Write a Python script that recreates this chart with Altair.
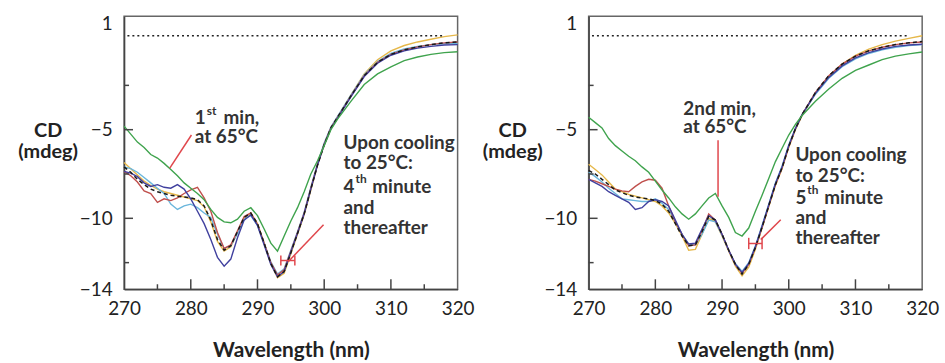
import altair as alt
import pandas as pd

# ---------------- data ----------------
wavelength = list(range(270, 303)) + list(range(304, 321, 2))

left_green = [-4.8, -5.25, -5.7, -6.0, -6.4, -6.6, -6.9, -7.25, -7.6, -8.0,
              -8.3, -8.6, -8.95, -9.5, -9.95, -10.2, -10.25, -10.05, -9.6, -9.4,
              -9.85, -10.6, -11.4, -11.85, -11.0, -10.15, -9.4, -8.5, -7.5, -6.75,
              -5.9, -5.0, -4.4,
              -3.4, -2.45, -1.85, -1.45, -1.1, -0.9, -0.75, -0.65, -0.6]
left_yellow = [-6.85, -7.2, -7.55, -7.9, -8.15, -8.35, -8.5, -8.6, -8.7, -8.8,
               -8.9, -9.0, -9.35, -10.2, -11.3, -11.85, -11.6, -10.8, -10.0, -9.7,
               -10.3, -11.4, -12.55, -13.35, -13.1, -12.0, -10.9, -9.8, -8.4, -7.0,
               -5.85, -4.95, -4.3,
               -3.05, -1.85, -1.05, -0.55, -0.25, -0.05, 0.1, 0.25, 0.35]
left_red = [-7.35, -7.6, -7.95, -8.45, -8.6, -9.1, -8.9, -9.0, -8.85, -8.6,
            -8.4, -8.25, -8.85, -9.6, -10.8, -11.7, -11.5, -10.7, -9.9, -9.7,
            -10.35, -11.4, -12.5, -13.2, -12.9, -11.85, -10.8, -9.7, -8.3, -6.95,
            -5.8, -4.9, -4.3,
            -3.1, -1.95, -1.2, -0.75, -0.5, -0.33, -0.2, -0.1, -0.05]
left_blue = [-7.35, -7.45, -7.65, -8.0, -8.2, -8.1, -8.25, -8.3, -8.1, -8.35,
             -8.9, -9.6, -10.3, -11.2, -12.2, -12.7, -12.3, -11.1, -10.1, -9.8,
             -10.4, -11.5, -12.6, -13.3, -13.0, -11.9, -10.85, -9.75, -8.35, -7.0,
             -5.85, -4.95, -4.35,
             -3.15, -2.0, -1.25, -0.8, -0.55, -0.4, -0.3, -0.22, -0.2]
left_cyan = [-7.1, -7.2, -7.4, -7.7, -8.0, -8.3, -8.6, -9.2, -9.5, -9.3,
             -9.2, -9.4, -9.7, -9.95, -10.9, -11.7, -11.55, -10.85, -10.05, -9.85,
             -10.4, -11.4, -12.45, -13.15, -12.85, -11.8, -10.75, -9.65, -8.25, -6.9,
             -5.75, -4.85, -4.25,
             -3.05, -1.9, -1.15, -0.7, -0.45, -0.3, -0.2, -0.15, -0.12]
left_black = [-7.1, -7.4, -7.8, -8.1, -8.35, -8.5, -8.6, -8.7, -8.75, -8.8,
              -8.85, -8.95, -9.3, -10.1, -11.2, -11.8, -11.55, -10.75, -9.95, -9.7,
              -10.3, -11.4, -12.55, -13.3, -13.0, -11.95, -10.85, -9.75, -8.35, -7.0,
              -5.85, -4.9, -4.3,
              -3.1, -1.95, -1.2, -0.75, -0.5, -0.33, -0.2, -0.1, -0.05]

right_green = [-4.3, -4.6, -4.9, -5.5, -5.9, -6.2, -6.5, -6.75, -7.1, -7.4,
               -7.9, -8.4, -8.85, -9.35, -9.75, -10.05, -9.75, -9.3, -8.85, -8.6,
               -9.3, -9.95, -10.8, -11.0, -10.55, -9.6, -8.7, -7.75, -6.8, -6.05,
               -5.3, -4.7, -4.2,
               -3.4, -2.7, -2.1, -1.65, -1.35, -1.05, -0.85, -0.72, -0.62]
right_yellow = [-6.95, -7.25, -7.55, -7.95, -8.35, -8.5, -8.65, -8.75, -8.85, -8.95,
                -9.05, -9.3, -9.7, -10.3, -11.0, -11.8, -11.75, -10.9, -10.0, -10.2,
                -11.0, -11.85, -12.7, -13.25, -12.75, -11.75, -10.55, -9.35, -8.15, -7.2,
                -6.0, -5.0, -4.2,
                -2.95, -2.0, -1.3, -0.8, -0.45, -0.2, 0.0, 0.15, 0.3]
right_red = [-7.8, -7.9, -8.05, -8.2, -8.35, -8.45, -8.5, -8.2, -7.95, -7.8,
             -7.85, -8.3, -9.3, -10.2, -10.9, -11.55, -11.5, -10.7, -9.75, -10.1,
             -10.9, -11.8, -12.6, -13.1, -12.6, -11.65, -10.5, -9.3, -8.1, -7.15,
             -5.95, -4.95, -4.15,
             -2.9, -1.95, -1.3, -0.85, -0.55, -0.35, -0.2, -0.1, -0.05]
right_blue = [-7.8, -8.0, -8.2, -8.5, -8.7, -8.9, -9.1, -9.5, -9.4, -9.05,
              -8.95, -9.05, -9.3, -10.1, -10.9, -11.45, -11.4, -10.6, -9.85, -10.1,
              -10.9, -11.8, -12.6, -13.05, -12.55, -11.6, -10.45, -9.25, -8.05, -7.1,
              -5.9, -4.95, -4.15,
              -2.95, -2.05, -1.4, -0.95, -0.65, -0.45, -0.3, -0.22, -0.18]
right_cyan = [-7.4, -7.65, -7.95, -8.3, -8.6, -8.9, -8.95, -9.0, -9.05, -9.05,
              -8.9, -9.15, -9.5, -10.2, -10.9, -11.45, -11.5, -10.9, -10.1, -10.2,
              -10.95, -11.8, -12.55, -13.0, -12.5, -11.55, -10.4, -9.2, -8.0, -7.05,
              -5.85, -4.9, -4.15,
              -3.0, -2.1, -1.45, -1.0, -0.7, -0.5, -0.35, -0.25, -0.2]
right_black = [-7.3, -7.5, -7.8, -8.1, -8.4, -8.55, -8.7, -8.8, -8.85, -8.9,
               -9.0, -9.2, -9.6, -10.3, -11.0, -11.55, -11.5, -10.75, -9.9, -10.1,
               -10.9, -11.8, -12.6, -13.15, -12.6, -11.65, -10.5, -9.3, -8.1, -7.15,
               -5.95, -4.95, -4.15,
               -2.9, -1.95, -1.3, -0.85, -0.55, -0.35, -0.2, -0.1, -0.02]

x_tick_labels = [270, 280, 290, 300, 310, 320]
y_tick_labels = [1, -5, -10, -14]
baseline_cd = 0.3

# annotations (wavelength, CD, text)
left_text = [(280.6, -4.37, "1"), (280.6, -5.43, "at 65°C"),
             (302.9, -5.77, "Upon cooling"), (302.9, -6.89, "to 25°C:"),
             (302.9, -8.23, "4"), (302.9, -9.41, "and"), (302.9, -10.53, "thereafter")]
left_sup = [(280.6, -4.37, "st"), (302.9, -8.23, "th")]
left_after = [(280.6, -4.37, "min,"), (302.9, -8.23, "minute")]
left_arrows = [(280.1, -5.3, 276.85, -7.17), (299.9, -10.36, 294.6, -12.45),
               (293.5, -12.38, 295.6, -12.38), (293.5, -12.1, 293.5, -12.66),
               (295.6, -12.1, 295.6, -12.66)]

right_text = [(284.2, -3.81, "2nd min,"), (284.2, -4.87, "at 65°C"),
              (301.0, -6.44, "Upon cooling"), (301.0, -7.62, "to 25°C:"),
              (301.0, -8.85, "5"), (301.0, -9.97, "and"), (301.0, -11.09, "thereafter")]
right_sup = [(301.0, -8.85, "th")]
right_after = [(301.0, -8.85, "minute")]
right_arrows = [(289.4, -5.6, 289.4, -8.79), (298.8, -10.08, 295.8, -11.2),
                (294.0, -11.42, 296.0, -11.42), (294.0, -11.1, 294.0, -11.74),
                (296.0, -11.1, 296.0, -11.74)]

series_colors = {"yellow": "#e6b84a", "cyan": "#6ab6dc", "red": "#c0504d",
                 "blue": "#40409e", "black": "#1a1a1a", "green": "#3fa34d"}

W, H = 336, 275
xscale = alt.Scale(domain=[270, 320], nice=False, zero=False)
yscale = alt.Scale(domain=[-14, 1.4], nice=False, zero=False)
FONT = "Lato"
TXT = "#333333"

AX = alt.Axis(values=x_tick_labels, ticks=False, grid=False, labelFlush=False,
              title="Wavelength (nm)", labelFontSize=19,
              labelColor="#222", labelPadding=10,
              titleFontSize=21, titleFontWeight="bold",
              titleColor="#222", titlePadding=22,
              domainColor="#444", domainWidth=1.5,
              labelFont=FONT, titleFont=FONT)
AY = alt.Axis(values=y_tick_labels, ticks=False, grid=False, labelFlush=False,
              title=["CD", "(mdeg)"], titleAngle=0,
              titleAlign="center", titleBaseline="alphabetic",
              titleX=-77, titleY=121, titleLineHeight=21,
              labelFontSize=19, labelColor="#222",
              labelPadding=12, titleFontSize=20,
              titleFontWeight="bold", titleColor="#222",
              domainColor="#444", domainWidth=1.5,
              labelFont=FONT, titleFont=FONT)


def X(f):
    return alt.X(f, scale=xscale, axis=AX)


def Y(f):
    return alt.Y(f, scale=yscale, axis=AY)


def panel(curves, texts, sups, afters, reds):
    layers = []
    for name in ["yellow", "cyan", "red", "blue", "black", "green"]:
        df = pd.DataFrame({"wl": wavelength, "cd": curves[name]})
        kw = dict(color=series_colors[name], strokeWidth=1.4)
        if name == "black":
            kw["strokeDash"] = [4, 3]
            kw["strokeWidth"] = 1.5
        layers.append(alt.Chart(df).mark_line(**kw).encode(x=X("wl:Q"), y=Y("cd:Q")))

    # dotted baseline
    base_df = pd.DataFrame({"wl": [270.5], "wl2": [318.0], "cd": [baseline_cd]})
    layers.append(alt.Chart(base_df).mark_rule(color="#222", strokeWidth=1.6,
                                               strokeDash=[2, 3]).encode(
        x=X("wl:Q"), x2="wl2:Q", y=Y("cd:Q")))

    # inward ticks
    xmaj = pd.DataFrame({"wl": [280, 290, 300, 310]})
    xmin = pd.DataFrame({"wl": [275, 285, 295, 305, 315]})
    layers.append(alt.Chart(xmaj).mark_rule(color="#444", strokeWidth=1.5).encode(
        x=X("wl:Q"), y=alt.value(H), y2=alt.value(H - 10)))
    layers.append(alt.Chart(xmin).mark_rule(color="#444", strokeWidth=1.5).encode(
        x=X("wl:Q"), y=alt.value(H), y2=alt.value(H - 5)))
    ymaj = pd.DataFrame({"cd": [-5, -10]})
    ymin = pd.DataFrame({"cd": [-2.5, -7.5, -12.5]})
    layers.append(alt.Chart(ymaj).mark_rule(color="#444", strokeWidth=1.5).encode(
        y=Y("cd:Q"), x=alt.value(0), x2=alt.value(9)))
    layers.append(alt.Chart(ymin).mark_rule(color="#444", strokeWidth=1.5).encode(
        y=Y("cd:Q"), x=alt.value(0), x2=alt.value(5)))

    # red annotation lines
    rdf = pd.DataFrame(reds, columns=["wl", "cd", "wl2", "cd2"])
    layers.append(alt.Chart(rdf).mark_rule(color="#e0474c", strokeWidth=1.5).encode(
        x=X("wl:Q"), y=Y("cd:Q"), x2="wl2:Q", y2="cd2:Q"))

    # texts
    def txt(rows, dx=0, dy=0, size=19):
        d = pd.DataFrame(rows, columns=["wl", "cd", "t"])
        return alt.Chart(d).mark_text(align="left", baseline="middle", dx=dx, dy=dy,
                                      fontSize=size, font=FONT, fontWeight="bold",
                                      color=TXT).encode(
            x=X("wl:Q"), y=Y("cd:Q"), text="t:N")
    layers.append(txt(texts))
    layers.append(txt(sups, dx=12, dy=-8, size=12))
    layers.append(txt(afters, dx=29))

    return alt.layer(*layers).properties(width=W, height=H)


left = panel({"yellow": left_yellow, "cyan": left_cyan, "red": left_red,
              "blue": left_blue, "black": left_black, "green": left_green},
             left_text, left_sup, left_after, left_arrows)
right = panel({"yellow": right_yellow, "cyan": right_cyan, "red": right_red,
               "blue": right_blue, "black": right_black, "green": right_green},
              right_text, right_sup, right_after, right_arrows)

chart = alt.hconcat(left, right, spacing=132, bounds="flush").properties(
    padding={"left": 17, "top": 12, "right": 5, "bottom": 5},
    background="white"
).configure_view(stroke="#666", strokeWidth=1.5)

chart.save("out.html", embed_options={"renderer": "svg", "actions": False})
